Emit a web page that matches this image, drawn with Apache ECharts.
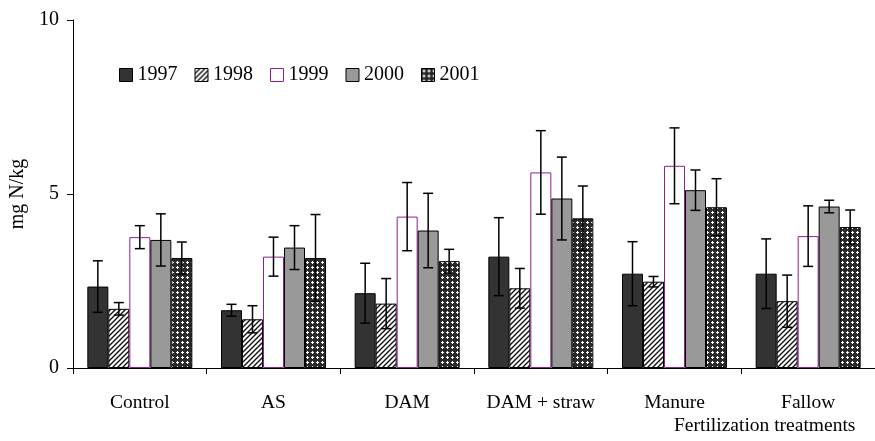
<!DOCTYPE html>
<html>
<head>
<meta charset="utf-8">
<script src="https://cdn.jsdelivr.net/npm/echarts@6/dist/echarts.min.js"></script>
<style>
  html, body { margin: 0; padding: 0; background: #fff; }
  #chart { width: 875px; height: 441px; }
</style>
</head>
<body>
<div id="chart"></div>
<script>
  // data
  let treatments = ['Control', 'AS', 'DAM', 'DAM + straw', 'Manure', 'Fallow'];
  let years = ['1997', '1998', '1999', '2000', '2001'];
  let y1997 = [2.34, 1.66, 2.15, 3.20, 2.71, 2.71];
  let y1998 = [1.70, 1.40, 1.85, 2.29, 2.48, 1.92];
  let y1999 = [3.76, 3.20, 4.35, 5.62, 5.81, 3.79];
  let y2000 = [3.68, 3.46, 3.95, 4.87, 5.11, 4.64];
  let y2001 = [3.16, 3.16, 3.07, 4.30, 4.62, 4.05];
  let e1997 = [0.74, 0.17, 0.86, 1.12, 0.92, 1.00];
  let e1998 = [0.18, 0.39, 0.72, 0.57, 0.15, 0.75];
  let e1999 = [0.33, 0.56, 0.98, 1.20, 1.09, 0.87];
  let e2000 = [0.75, 0.63, 1.07, 1.19, 0.58, 0.18];
  let e2001 = [0.46, 1.25, 0.34, 0.93, 0.82, 0.49];
  let yTicks = [0, 5, 10];

  let values = [y1997, y1998, y1999, y2000, y2001];
  let errors = [e1997, e1998, e1999, e2000, e2001];

  const FONT = 'Liberation Serif';
  const BAR_W = 21;

  // hatch "////" on white
  function hatchPattern() {
    let c = document.createElement('canvas');
    c.width = 5; c.height = 5;
    let ctx = c.getContext('2d');
    ctx.fillStyle = '#fff';
    ctx.fillRect(0, 0, 5, 5);
    ctx.strokeStyle = '#111';
    ctx.lineWidth = 1.4;
    ctx.beginPath();
    ctx.moveTo(-1, 6); ctx.lineTo(6, -1);
    ctx.moveTo(-3.5, 3.5); ctx.lineTo(3.5, -3.5);
    ctx.moveTo(1.5, 8.5); ctx.lineTo(8.5, 1.5);
    ctx.stroke();
    return c;
  }

  // dark grid with white crosses
  function checkPattern() {
    let c = document.createElement('canvas');
    c.width = 5; c.height = 5;
    let ctx = c.getContext('2d');
    ctx.fillStyle = '#2a2a2a';
    ctx.fillRect(0, 0, 5, 5);
    ctx.fillStyle = '#fff';
    ctx.fillRect(1, 2, 3, 1);
    ctx.fillRect(2, 1, 1, 3);
    return c;
  }

  let fills = [
    '#333333',
    { image: hatchPattern(), repeat: 'repeat' },
    '#ffffff',
    '#999999',
    { image: checkPattern(), repeat: 'repeat' }
  ];
  let borders = ['#000', '#000', '#8e1f8e', '#000', '#000'];

  let series = [];
  years.forEach((yr, i) => {
    series.push({
      name: yr,
      type: 'bar',
      data: values[i],
      barWidth: BAR_W,
      barGap: '0%',
      itemStyle: {
        color: fills[i],
        borderColor: borders[i],
        borderWidth: 1
      },
      z: 2
    });
  });

  // error bars
  years.forEach((yr, i) => {
    series.push({
      type: 'custom',
      data: values[i].map((v, k) => [k, v, errors[i][k]]),
      z: 5,
      silent: true,
      renderItem: function (params, api) {
        let k = api.value(0);
        let v = api.value(1);
        let e = api.value(2);
        let hi = api.coord([k, v + e]);
        let lo = api.coord([k, v - e]);
        let x = hi[0] + (i - 2) * BAR_W;
        let style = { stroke: '#000', lineWidth: 1.5 };
        return {
          type: 'group',
          children: [
            { type: 'line', shape: { x1: x, y1: hi[1], x2: x, y2: lo[1] }, style: style },
            { type: 'line', shape: { x1: x - 5, y1: hi[1], x2: x + 5, y2: hi[1] }, style: style },
            { type: 'line', shape: { x1: x - 5, y1: lo[1], x2: x + 5, y2: lo[1] }, style: style }
          ]
        };
      }
    });
  });

  let myChart = echarts.init(document.getElementById('chart'));
  let option = {
    animation: false,
    backgroundColor: '#fff',
    textStyle: { fontFamily: FONT },
    grid: { left: 73, top: 20, bottom: 73, right: -7 },
    legend: {
      data: years.map((yr, i) => ({
        name: yr,
        itemStyle: { color: fills[i], borderColor: borders[i], borderWidth: 1 }
      })),
      left: 114,
      top: 60,
      itemWidth: 13,
      itemHeight: 13,
      itemGap: 17,
      icon: 'rect',
      textStyle: { fontFamily: FONT, fontSize: 20, color: '#000' }
    },
    xAxis: {
      type: 'category',
      data: treatments,
      axisLine: { lineStyle: { color: '#000', width: 1 } },
      axisTick: { show: true, length: 6, alignWithLabel: false, lineStyle: { color: '#000' } },
      axisLabel: { color: '#000', fontFamily: FONT, fontSize: 19.5, margin: 25, interval: 0 }
    },
    yAxis: {
      type: 'value',
      min: yTicks[0],
      max: yTicks[yTicks.length - 1],
      interval: 5,
      name: 'mg N/kg',
      nameLocation: 'middle',
      nameRotate: 90,
      nameGap: 40,
      nameTextStyle: { color: '#000', fontFamily: FONT, fontSize: 20 },
      axisLine: { show: true, lineStyle: { color: '#000', width: 1 } },
      axisTick: { show: true, length: 6, lineStyle: { color: '#000' } },
      axisLabel: { color: '#000', fontFamily: FONT, fontSize: 20, margin: 14 },
      splitLine: { show: false }
    },
    graphic: [{
      type: 'text',
      left: 674,
      top: 416,
      style: { text: 'Fertilization treatments', fill: '#000', font: '19.5px "Liberation Serif"' }
    }],
    series: series
  };
  myChart.setOption(option);
</script>
</body>
</html>
